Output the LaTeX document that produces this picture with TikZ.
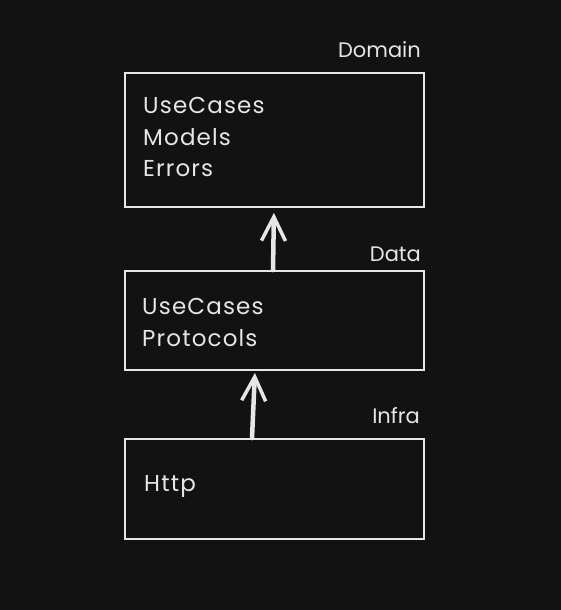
\documentclass[tikz,border=0pt]{standalone}
\usepackage{fontspec}
\setmainfont{Poppins}
\newfontfamily\bodyfont[LetterSpace=5]{Poppins}
\usetikzlibrary{arrows.meta}
\definecolor{bg}{HTML}{121212}
\definecolor{ink}{HTML}{E6E6E6}
\begin{document}
\begin{tikzpicture}[x=1pt,y=-1pt,
  layer/.style={draw=ink,line width=1.8pt,fill=bg,minimum width=299pt,inner sep=0pt},
  body/.style={text=ink,anchor=west,align=left,font=\bodyfont\fontsize{23}{31.5}\selectfont,inner sep=0pt},
  tag/.style={text=ink,anchor=east,font=\fontsize{21}{24}\selectfont,inner sep=0pt},
  arr/.style={draw=ink,line width=4.5pt,line cap=round,-{Straight Barb[length=24pt,width=24pt,line width=3.5pt]}}]
\fill[bg] (0,0) rectangle (561,610);
\useasboundingbox (0,0) rectangle (561,610);
\node[layer,minimum height=134pt] (domain) at (274.5,140) {};
\node[layer,minimum height=99pt] (data) at (274.5,320.5) {};
\node[layer,minimum height=100pt] (infra) at (274.5,489) {};
\node[body] (domaintxt) at (143,137) {UseCases\\Models\\Errors};
\node[body] (datatxt) at (142,322.5) {UseCases\\Protocols};
\node[body] (infratxt) at (144,486) {Http};
\node[tag] (domainlbl) at (421,50) {Domain};
\node[tag] (datalbl) at (421,254) {Data};
\node[tag] (infralbl) at (420,416) {Infra};
\draw[arr,shorten >=5pt] ([xshift=-1.5pt]data.north) -- ([xshift=-0.5pt]domain.south);
\draw[arr,shorten >=2pt] ([xshift=-22.5pt]infra.north) -- ([xshift=-19.5pt]data.south);
\end{tikzpicture}
\end{document}
